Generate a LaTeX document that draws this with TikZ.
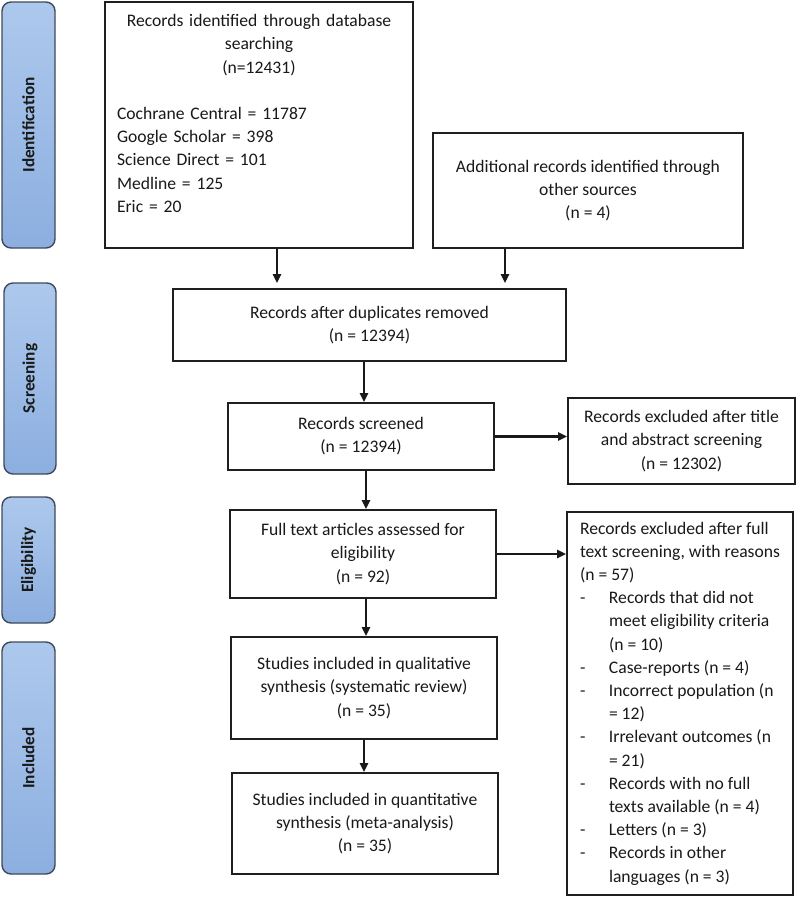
\documentclass[tikz,border=0pt]{standalone}
\usepackage{fontspec}
\setmainfont{Carlito}
\usetikzlibrary{arrows.meta}
\definecolor{bandtop}{HTML}{ADC8EC}
\definecolor{bandbot}{HTML}{8CAFE0}
\definecolor{bandline}{HTML}{3E4A5C}
\newcommand{\dashitem}{\makebox[29pt][l]{-}}
\newcommand{\indentline}{\hspace*{29pt}}
\begin{document}
\begin{tikzpicture}[x=1pt,y=-1pt,
  fbox/.style={draw=black!88, line width=1.8pt, fill=white, inner sep=0pt,
    align=center, font=\fontsize{17.6pt}{23.2pt}\selectfont, text=black!90},
  band/.style={draw=bandline, line width=1.4pt, rounded corners=9pt, inner sep=0pt,
    top color=bandtop, bottom color=bandbot},
  bandtext/.style={rotate=90, inner sep=0pt,
    font=\bfseries\fontsize{17.2pt}{20pt}\selectfont, text=black!90},
  arr/.style={-{Triangle[length=9pt,width=8pt]}, line width=2.2pt, draw=black!90},
]
\useasboundingbox[fill=white] (0,0) rectangle (800,898);

% phase bands
\node[band, minimum width=53pt, minimum height=246pt] (bid) at (28.5,125) {};
\node[bandtext] (tid) at (bid.center) {Identification};
\node[band, minimum width=52pt, minimum height=191pt] (bscr) at (30,378.5) {};
\node[bandtext] (tscr) at (bscr.center) {Screening};
\node[band, minimum width=53pt, minimum height=126pt] (belig) at (28.5,560) {};
\node[bandtext] (telig) at (belig.center) {Eligibility};
\node[band, minimum width=53pt, minimum height=232pt] (bincl) at (28.5,758) {};
\node[bandtext] (tincl) at (bincl.center) {Included};

% boxes
\node[fbox, minimum width=308pt, minimum height=246pt, text width=284pt, align=left] (db) at (259,125)
  {{\centering Records identified through database\\ searching\\ (n=12431)\par}
   \vspace{23.2pt}
   Cochrane Central = 11787\\ Google Scholar = 398\\ Science Direct = 101\\ Medline = 125\\ Eric = 20\\ \mbox{}};
\node[fbox, minimum width=310pt, minimum height=115pt] (add) at (588,190.5)
  {Additional records identified through\\ other sources\\ (n = 4)};
\node[fbox, minimum width=393pt, minimum height=72pt] (dup) at (369.5,325)
  {Records after duplicates removed\\ (n = 12394)};
\node[fbox, minimum width=266pt, minimum height=67pt] (scr) at (361,436.5)
  {Records screened\\ (n = 12394)};
\node[fbox, minimum width=227pt, minimum height=86pt] (excl1) at (681.5,441)
  {Records excluded after title\\ and abstract screening\\ (n = 12302)};
\node[fbox, minimum width=266pt, minimum height=88pt] (full) at (363,554)
  {Full text articles assessed for\\ eligibility\\ (n = 92)};
\node[fbox, minimum width=226pt, minimum height=383pt, align=left] (excl2) at (680,703.5)
  {Records excluded after full\\
   text screening, with reasons\\
   (n = 57)\\
   \dashitem Records that did not\\
   \indentline meet eligibility criteria\\
   \indentline (n = 10)\\
   \dashitem Case-reports (n = 4)\\
   \dashitem Incorrect population (n\\
   \indentline = 12)\\
   \dashitem Irrelevant outcomes (n\\
   \indentline = 21)\\
   \dashitem Records with no full\\
   \indentline texts available (n = 4)\\
   \dashitem Letters (n = 3)\\
   \dashitem Records in other\\
   \indentline languages (n = 3)};
\node[fbox, minimum width=266pt, minimum height=102pt] (qual) at (364,688)
  {Studies included in qualitative\\ synthesis (systematic review)\\ (n = 35)};
\node[fbox, minimum width=266pt, minimum height=101pt] (quant) at (365,823.5)
  {Studies included in quantitative\\ synthesis (meta-analysis)\\ (n = 35)};

% connectors
\draw[arr, shorten >=5pt] ([xshift=18pt]db.south) -- ([xshift=18pt]db.south |- dup.north);
\draw[arr, shorten >=5pt] ([xshift=-83pt]add.south) -- ([xshift=-83pt]add.south |- dup.north);
\draw[arr] ([xshift=3pt]scr.north |- dup.south) -- ([xshift=3pt]scr.north);
\draw[arr] (scr.east) -- (scr.east -| excl1.west);
\draw[arr] ([xshift=5pt]scr.south) -- ([xshift=5pt]scr.south |- full.north);
\draw[arr] (full.east) -- (full.east -| excl2.west);
\draw[arr] ([xshift=3pt]full.south) -- ([xshift=3pt]full.south |- qual.north);
\draw[arr] (qual.south) -- (qual.south |- quant.north);
\end{tikzpicture}
\end{document}
